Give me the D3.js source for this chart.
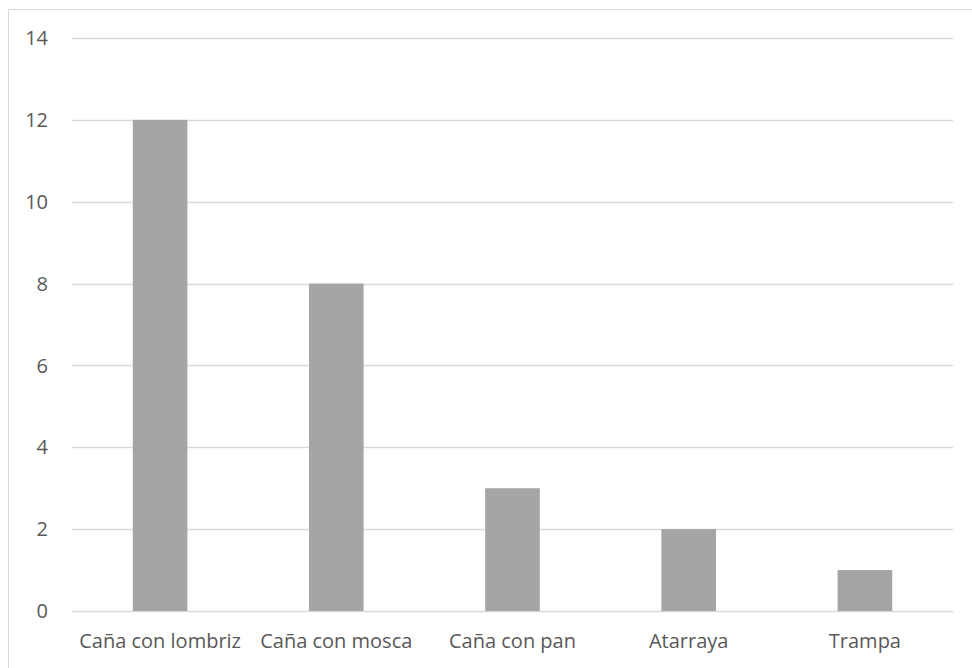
<!DOCTYPE html>
<html><head><meta charset="utf-8">
<script src="https://cdn.jsdelivr.net/npm/d3@7"></script>
<style>body{margin:0;background:#fff}svg{display:block}</style>
</head><body>
<script>
const categories = ["Caña con lombriz","Caña con mosca","Caña con pan","Atarraya","Trampa"];
const values = [12, 8, 3, 2, 1];
const yTicks = [0,2,4,6,8,10,12,14];

const W = 972, H = 668;
const svg = d3.select("body").append("svg").attr("width", W).attr("height", H);
svg.append("path").attr("d", `M8.5,${H} V9.5 H${W}`).attr("fill","none").attr("stroke","#d9d9d9").attr("stroke-width",1);

const x = d3.scaleBand().domain(categories).range([72, 953]).paddingInner(0.69).paddingOuter(0.345);
const y = d3.scaleLinear().domain([0,14]).range([611, 38]);

const font = "'Open Sans', sans-serif";
svg.append("g").selectAll("line").data(yTicks).join("line")
  .attr("x1",72).attr("x2",953)
  .attr("y1",d=>Math.round(y(d))+0.5).attr("y2",d=>Math.round(y(d))+0.5)
  .attr("stroke","#d9d9d9").attr("stroke-width",1.3);

svg.append("g").selectAll("rect").data(values).join("rect")
  .attr("x",(d,i)=>x(categories[i])).attr("width",x.bandwidth())
  .attr("y",d=>y(d)).attr("height",d=>y(0)-y(d)).attr("fill","#a5a5a5");

svg.append("g").selectAll("text").data(yTicks).join("text")
  .attr("x",48).attr("y",d=>y(d)).attr("dy","0.36em").attr("text-anchor","end")
  .attr("font-family",font).attr("font-size",20).attr("fill","#595959").text(d=>d);

svg.append("g").selectAll("text").data(categories).join("text")
  .attr("x",d=>x(d)+x.bandwidth()/2).attr("y",641).attr("dy","0.36em").attr("text-anchor","middle")
  .attr("font-family",font).attr("font-size",20).attr("fill","#595959").text(d=>d);
</script>
</body></html>
